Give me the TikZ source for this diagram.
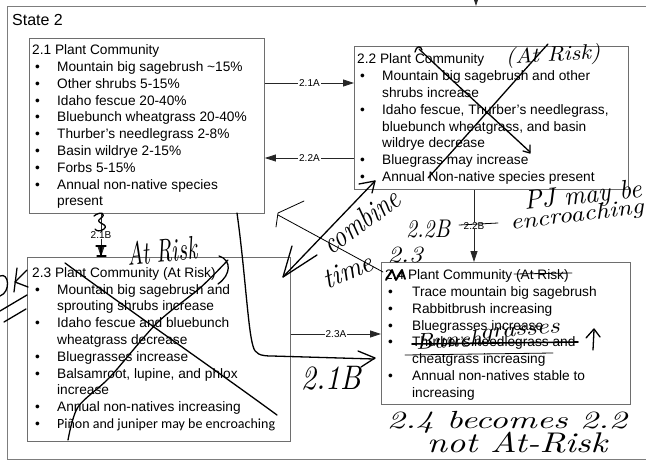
\documentclass[tikz,border=0pt]{standalone}
\usepackage{fontspec}
\usepackage{graphicx}
\newfontfamily\arial{Liberation Sans}
\newfontfamily\calib{Carlito}
\usetikzlibrary{arrows.meta}
\definecolor{boxgray}{HTML}{6E6E6E}
\newcommand\bul{\makebox[25pt][l]{\hspace{3pt}\textbullet}}
\newcommand\bulw{\makebox[27pt][l]{\hspace{3pt}\textbullet}}
\newcommand\hdr[1]{\multicolumn{2}{@{}l@{}}{#1}}
\newcommand\hw[3]{\resizebox*{#1pt}{#2pt}{\itshape #3}}
\begin{document}
\begin{tikzpicture}[x=1pt,y=-1pt,
  boxst/.style={draw=boxgray,line width=0.9pt,anchor=north west,inner sep=0pt},
  txt/.style={anchor=north west,inner sep=0pt,font=\arial\fontsize{13.7}{16.8}\selectfont},
  conn/.style={draw=black!85,line width=0.8pt,-{Triangle[length=11pt,width=7pt]}},
  lab/.style={fill=white,inner xsep=1pt,inner ysep=0pt,font=\arial\fontsize{10}{12}\selectfont},
  pen/.style={draw=black,line width=1.3pt,line cap=round,line join=round},
  thinpen/.style={draw=black,line width=0.8pt,line cap=round,line join=round},
  hand/.style={inner sep=0pt}]
\useasboundingbox (0,0) rectangle (646,461);
\clip (0,0) rectangle (646,461);
\fill[white] (0,0) rectangle (646,461);

% outer state box
\node[boxst,draw=boxgray!90,minimum width=680pt,minimum height=453pt] (state) at (7,6) {};
\node[anchor=base west,inner sep=0pt,font=\arial\fontsize{16}{19}\selectfont] (stitle) at (12,25) {State 2};
\coordinate (topin) at (476,-8);
\draw[conn] (topin) -- (topin |- state.north);

% boxes
\node[boxst,minimum width=235pt,minimum height=175pt] (b21) at (29,38) {};
\node[boxst,minimum width=274pt,minimum height=143pt] (b22) at (354,46) {};
\node[boxst,minimum width=263pt,minimum height=184pt] (b23) at (27,257) {};
\node[boxst,minimum width=249pt,minimum height=142pt] (b24) at (381,262) {};

\node[txt] (t21) at (32,42.7) {\begin{tabular}{@{}l@{}l@{}}
\hdr{2.1 Plant Community}\\
\bul & Mountain big sagebrush \textasciitilde15\%\\
\bul & Other shrubs 5-15\%\\
\bul & Idaho fescue 20-40\%\\
\bul & Bluebunch wheatgrass 20-40\%\\
\bul & Thurber’s needlegrass 2-8\%\\
\bul & Basin wildrye 2-15\%\\
\bul & Forbs 5-15\%\\
\bul & Annual non-native species\\
 & present
\end{tabular}};

\node[txt] (t22) at (357,52) {\begin{tabular}{@{}l@{}l@{}}
\hdr{2.2 Plant Community}\\
\bul & Mountain big sagebrush and other\\
 & shrubs increase\\
\bul & Idaho fescue, Thurber’s needlegrass,\\
 & bluebunch wheatgrass, and basin\\
 & wildrye decrease\\
\bul & Bluegrass may increase\\
\bul & Annual Non-native species present
\end{tabular}};

\node[txt] (t23) at (32,265.3) {\begin{tabular}{@{}l@{}l@{}}
\hdr{2.3 Plant Community (At Risk)}\\
\bul & Mountain big sagebrush and\\
 & sprouting shrubs increase\\
\bul & Idaho fescue and bluebunch\\
 & wheatgrass decrease\\
\bul & Bluegrasses increase\\
\bul & Balsamroot, lupine, and phlox\\
 & increase\\
\bul & Annual non-natives increasing\\
\bul & {\calib\fontsize{14}{16.8}\selectfont Piñon and juniper may be encroaching}
\end{tabular}};

\node[txt] (t24) at (385,267.7) {\begin{tabular}{@{}l@{}l@{}}
\hdr{2.4 Plant Community (At Risk)}\\
\bulw & Trace mountain big sagebrush\\
\bulw & Rabbitbrush increasing\\
\bulw & Bluegrasses increase\\
\bulw & Thurber’s needlegrass and\\
 & cheatgrass increasing\\
\bulw & Annual non-natives stable to\\
 & increasing
\end{tabular}};

% printed connectors
\draw[conn] ([yshift=-45pt]b21.north east) -- node[lab] (l21a) {2.1A} ([yshift=-37pt]b22.north west);
\draw[conn] ([yshift=-112pt]b22.north west) -- node[lab] (l22a) {2.2A} ([yshift=-120pt]b21.north east);
\draw[conn] ([xshift=72pt]b21.south west) -- node[lab] (l21b) {2.1B} ([xshift=74pt]b23.north west);
\draw[conn] ([xshift=120pt]b22.south west) -- node[lab] (l22b) {2.2B} ([xshift=93pt]b24.north west);
\draw[conn] ([yshift=-77pt]b23.north east) -- node[lab] (l23a) {2.3A} ([yshift=-72pt]b24.north west);

% ---------- handwriting ----------
% X over 2.2
\draw[pen] (415,52) .. controls (416,46) and (421,45) .. (422,50);
\draw[pen] (419,49) .. controls (460,88) and (500,124) .. (530,152);
\draw[pen] (523,151) -- (530,153) -- (530,145);
\draw[pen] (428,178) .. controls (470,132) and (510,86) .. (548,44);
\node[hand,rotate=3] (hatrisk1) at (553,56) {\hw{95}{21}{(At Risk)}};

% PJ may be encroaching
\node[hand,rotate=6] (hpj) at (583,197) {\hw{118}{24}{PJ may be}};
\node[hand,rotate=7] (henc) at (577,216) {\hw{134}{20}{encroaching}};

% X over 2.3
\draw[pen] (65,263) .. controls (140,318) and (210,366) .. (277,415);
\draw[pen] plot[smooth] coordinates {(68,440) (78,407) (110,377) (157,323) (200,288) (228,260)};
\draw[pen] (219,256) .. controls (232,260) and (231,275) .. (218,284);
\node[hand,rotate=6] (hatrisk2) at (162,251) {\hw{70}{24}{At Risk}};

% scribble on 2.1B connector
\draw[pen] (94,216) .. controls (100,211) and (108,213) .. (100,219) .. controls (94,223) and (110,224) .. (104,229) .. controls (100,232) and (96,231) .. (95,229);
\draw[pen] (96,246) -- (106,246);
\draw[pen] (101,246) -- (101,255);
\draw[pen] (97,256) -- (106,256);

% left "ok //"
\draw[pen] (0,276) .. controls (9,272) and (11,292) .. (0,296);
\draw[pen] (17,268) -- (14,292);
\draw[pen] (27,270) -- (15,282) -- (28,287);
\draw[pen] (0,311) -- (27,295);
\draw[pen] (4,322) -- (26,309);

% combine double arrow
\draw[pen] (283,277) -- (375,181);
\draw[pen] (292,246) -- (283,277) -- (317,255);
\draw[pen] (359,184) -- (375,181) -- (372,193);
\node[hand,rotate=36] (hcomb) at (361,221) {\hw{88}{22}{combine}};
\node[hand,rotate=22] (htime) at (348,271) {\hw{52}{19}{time}};

% thin arrow from 2.4 corner
\draw[thinpen] (383,272) -- (278,215);
\draw[thinpen] (276,227) -- (278,213) -- (304,201);

% big curve 2.1B
\draw[pen] (237,213) .. controls (245,270) and (248,330) .. (253,346) .. controls (255,354) and (260,356) .. (272,356) -- (374,359);
\draw[pen] (358,351) -- (375,358) -- (361,367);
\node[hand] (h21b) at (331,378) {\hw{60}{24}{2.1B}};

% box 2.4 edits
\node[hand] (h23) at (405,255) {\hw{35}{16}{2.3}};
\node[hand] (h22b) at (428,229) {\hw{44}{18}{2.2B}};
\draw[thinpen] (459,225) -- (498,223);
\draw[pen,line width=1.8pt] (386,280) -- (392,270) -- (396,280) -- (402,270) -- (405,279);
\draw[thinpen] (514,274) -- (572,273);
\draw[pen,line width=1.6pt] (412,344) -- (578,342);
\draw[thinpen] (405,355) -- (553,353);
\node[hand,rotate=3] (hbunch) at (449,340) {\hw{66}{16}{Bunch}};
\node[hand,rotate=5] (hgrass) at (520,333) {\hw{80}{14}{grasses}};
\draw[pen] (593,350) -- (594,330);
\draw[pen] (586,338) -- (594,329) -- (600,337);

% bottom notes
\node[hand] (hbec) at (507,422) {\hw{240}{22}{2.4 becomes 2.2}};
\node[hand] (hnot) at (517,443) {\hw{180}{21}{not At-Risk}};
\end{tikzpicture}
\end{document}
